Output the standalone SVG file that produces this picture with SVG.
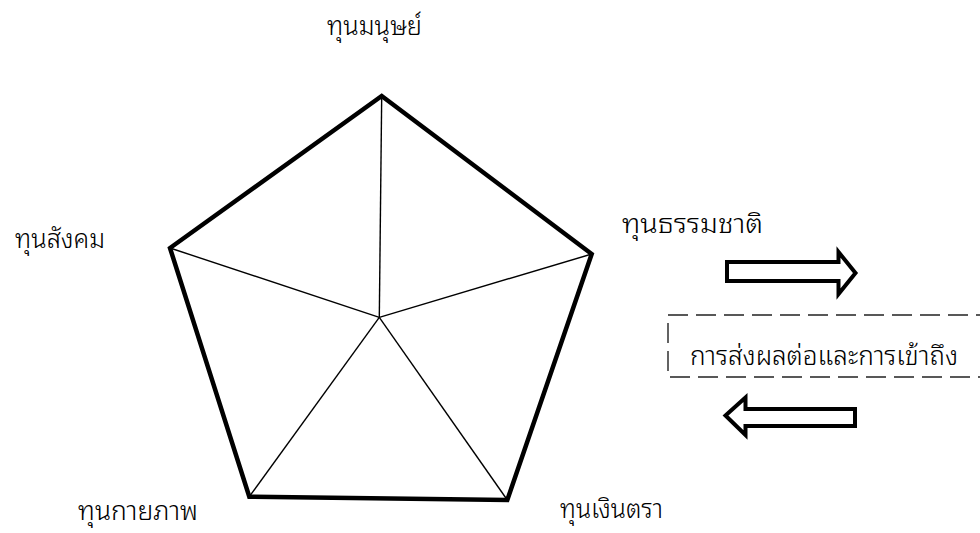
<svg xmlns="http://www.w3.org/2000/svg" width="980" height="533" viewBox="0 0 980 533">
<style>
.lbl{font-family:"Noto Sans Thai Looped","Noto Sans Thai","Noto Sans","DejaVu Sans",sans-serif;font-size:26px;font-weight:300;fill:#000}
.outline{fill:none;stroke:#000;stroke-width:4.5;stroke-linejoin:miter}
.spoke{stroke:#000;stroke-width:1.4;fill:none}
.arrow{fill:#fff;stroke:#000;stroke-width:4;stroke-linejoin:miter}
.dash{fill:none;stroke:#222;stroke-width:1.4;stroke-dasharray:20 8}
</style>
<rect width="980" height="533" fill="#fff"/>
<g id="connectors">
<line class="spoke" x1="379.3" y1="317.3" x2="381.7" y2="96"/>
<line class="spoke" x1="379.3" y1="317.3" x2="591.7" y2="254"/>
<line class="spoke" x1="379.3" y1="317.3" x2="507.3" y2="500"/>
<line class="spoke" x1="379.3" y1="317.3" x2="249.3" y2="496.7"/>
<line class="spoke" x1="379.3" y1="317.3" x2="170" y2="248"/>
</g>
<g id="pentagon">
<polygon class="outline" points="381.7,96 591.7,254 507.3,500 249.3,496.7 170,248"/>
</g>
<g id="node-human"><text class="lbl" x="327" y="35" textLength="95" lengthAdjust="spacingAndGlyphs">ทุนมนุษย์</text></g>
<g id="node-social"><text class="lbl" x="15" y="248" textLength="90" lengthAdjust="spacingAndGlyphs">ทุนสังคม</text></g>
<g id="node-natural"><text class="lbl" x="622" y="233" textLength="141" lengthAdjust="spacingAndGlyphs">ทุนธรรมชาติ</text></g>
<g id="node-physical"><text class="lbl" x="78" y="520" textLength="120" lengthAdjust="spacingAndGlyphs">ทุนกายภาพ</text></g>
<g id="node-financial"><text class="lbl" x="560" y="518" textLength="103" lengthAdjust="spacingAndGlyphs">ทุนเงินตรา</text></g>
<g id="arrow-right"><path class="arrow" d="M727,262 H838.5 V252 L855.5,273 L838.5,294 V281 H727 Z"/></g>
<g id="arrow-left"><path class="arrow" d="M725.5,415.5 L745.5,397.5 V409 H855 V426 H745.5 V435 Z"/></g>
<g id="node-access">
<rect class="dash" x="668" y="315" width="330" height="62"/>
<text class="lbl" x="690" y="365" textLength="268" lengthAdjust="spacingAndGlyphs">การส่งผลต่อและการเข้าถึง</text>
</g>
</svg>
